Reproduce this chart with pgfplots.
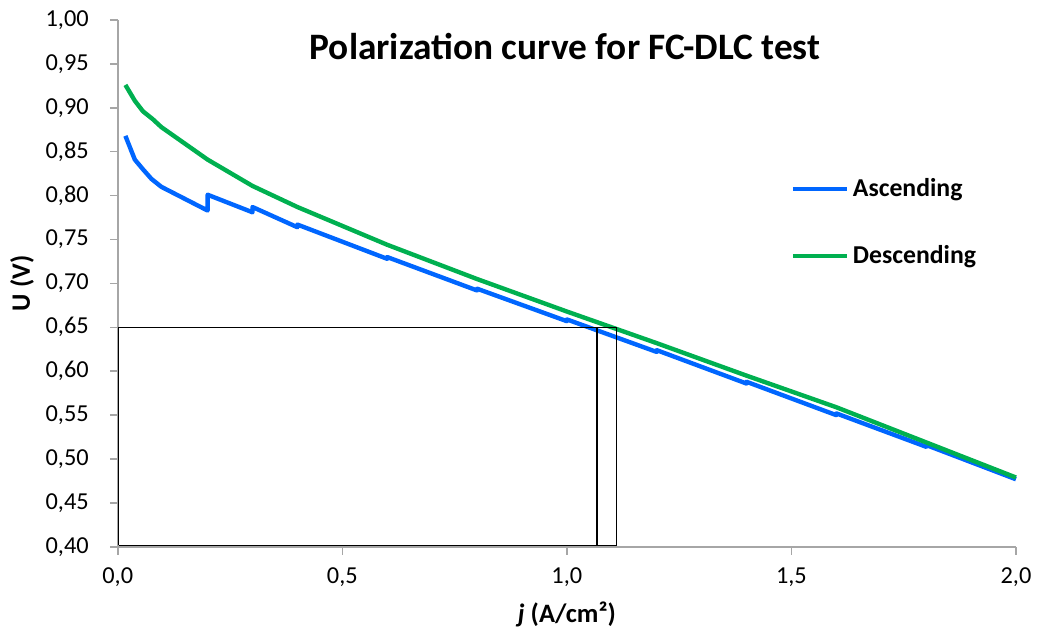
\documentclass[border=0pt]{standalone}
\usepackage{fontspec}
\setmainfont{Carlito}
\usepackage{pgfplots}
\pgfplotsset{compat=1.18}
\definecolor{asc}{HTML}{0066FF}
\definecolor{desc}{HTML}{00B050}
\definecolor{axgray}{HTML}{A6A6A6}
\begin{document}
\begin{tikzpicture}
\begin{axis}[
  scale only axis,
  width=450pt, height=264pt,
  xmin=0, xmax=2, ymin=0.4, ymax=1.0,
  xtick={0,0.5,1,1.5,2},
  ytick={0.4,0.45,0.5,0.55,0.6,0.65,0.7,0.75,0.8,0.85,0.9,0.95,1.0},
  axis x line*=bottom, axis y line*=left,
  axis line style={-, axgray, line width=0.8pt},
  tick style={axgray, line width=0.8pt},
  tick align=outside,
  major tick length=4pt,
  /pgf/number format/assume math mode=true,
  /pgf/number format/use comma,
  xticklabel style={/pgf/number format/.cd, fixed, fixed zerofill, precision=1, /tikz/.cd, yshift=-3pt},
  yticklabel style={/pgf/number format/.cd, fixed, fixed zerofill, precision=2, /tikz/.cd, xshift=-7pt},
  ticklabel style={font=\fontsize{12.2}{14}\selectfont},
  xlabel={\textit{j} (A/cm²)},
  ylabel={U (V)},
  label style={font=\bfseries\fontsize{13.3}{15}\selectfont},
  xlabel style={yshift=-0.5pt},
  ylabel style={yshift=-1pt},
  title={Polarization curve for FC-DLC test},
  title style={font=\bfseries\fontsize{18.7}{22}\selectfont, at={(0.498,0.926)}, anchor=center},
  legend style={draw=none, fill=none, at={(0.742,0.715)}, anchor=north west,
    font=\bfseries\fontsize{12.9}{15}\selectfont, row sep=19pt},
  legend cell align=left,
  legend image code/.code={\draw[#1, line width=2.2pt] (0pt,0pt) -- (27pt,0pt);},
  clip=false,
]
\addplot[asc, line width=2.2pt, line join=round] coordinates {
(0.017,0.868) (0.038,0.841) (0.056,0.830) (0.075,0.819) (0.097,0.810)
(0.2,0.783) (0.2,0.801) (0.3,0.781) (0.3,0.787) (0.4,0.764) (0.4,0.767)
(0.6,0.728) (0.6,0.730) (0.8,0.692) (0.8,0.694) (1.0,0.657) (1.0,0.659)
(1.2,0.622) (1.2,0.624) (1.4,0.586) (1.4,0.588) (1.6,0.550) (1.6,0.552)
(1.8,0.514) (1.8,0.516) (2.0,0.477)
};
\addlegendentry{Ascending}
\addplot[desc, line width=2.2pt, line join=round] coordinates {
(0.017,0.926) (0.038,0.908) (0.056,0.896) (0.078,0.887) (0.097,0.878)
(0.2,0.841) (0.3,0.811) (0.4,0.787) (0.6,0.744) (0.8,0.705) (1.0,0.668)
(1.2,0.632) (1.4,0.595) (1.6,0.559) (1.8,0.519) (2.0,0.479)
};
\addlegendentry{Descending}
\addplot[black, line width=0.6pt, forget plot] coordinates {
(0.002,0.402) (1.11,0.402) (1.11,0.65) (0.002,0.65) (0.002,0.402)
};
\addplot[black, line width=0.6pt, forget plot] coordinates {
(1.067,0.402) (1.067,0.65)
};
\end{axis}
\path ([shift={(-59pt,-40.5pt)}]current axis.south west) rectangle ([shift={(10pt,10pt)}]current axis.north east);
\end{tikzpicture}
\end{document}
